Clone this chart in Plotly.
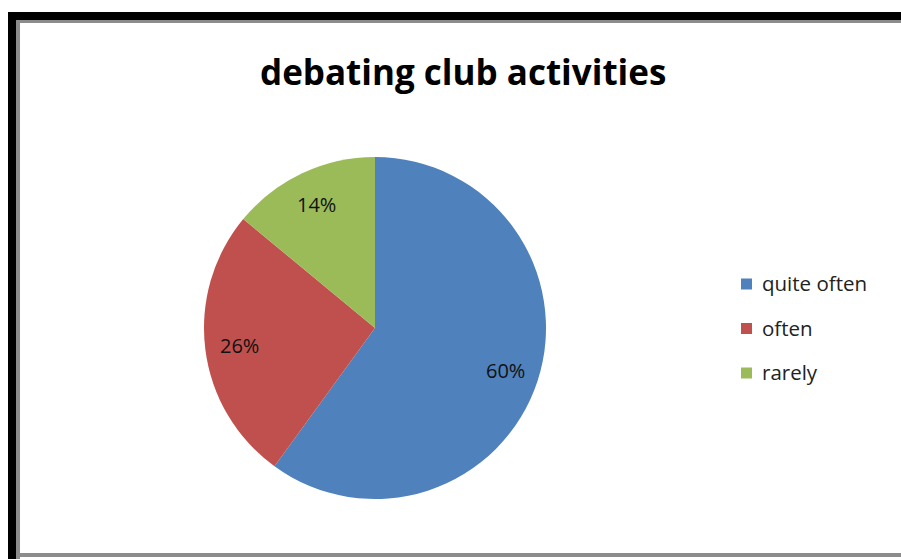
import math
import plotly.graph_objects as go

categories = ["quite often", "often", "rarely"]
values = [60, 26, 14]
colors = ["#4F81BD", "#C0504D", "#9BBB59"]
title_text = "debating club activities"

W, H = 901, 559
FONT = "Open Sans"

# pie geometry (pixels)
cx, cy, r = 375, 328, 171
dom_x = [(cx - r) / W, (cx + r) / W]
dom_y = [1 - (cy + r) / H, 1 - (cy - r) / H]

fig = go.Figure()
fig.add_trace(go.Pie(
    labels=categories, values=values, sort=False, direction="clockwise",
    rotation=0, marker=dict(colors=colors, line=dict(width=0)),
    textinfo="none", hoverinfo="label+percent", showlegend=False,
    domain=dict(x=dom_x, y=dom_y),
))

annotations = []
shapes = []
total = sum(values)
cum = 0
for v in values:
    mid = (cum + v / 2) / total
    cum += v
    th = 2 * math.pi * mid
    px = cx + 0.8 * r * math.sin(th)
    py = cy - 0.8 * r * math.cos(th)
    annotations.append(dict(
        x=px / W, y=1 - py / H, xref="paper", yref="paper",
        text=f"{round(100 * v / total)}%", showarrow=False,
        font=dict(family=FONT, size=20, color="#111111"),
        xanchor="center", yanchor="middle"))

# title
annotations.append(dict(
    x=463 / W, y=1 - 72 / H, xref="paper", yref="paper", text=f"<b>{title_text}</b>",
    showarrow=False, font=dict(family=FONT, size=35, color="#000000"),
    xanchor="center", yanchor="middle"))

# manual legend
leg_x, leg_y0, leg_dy = 741, 284, 44.5
for i, (c, col) in enumerate(zip(categories, colors)):
    yy = leg_y0 + i * leg_dy
    shapes.append(dict(type="rect", xref="paper", yref="paper",
                       x0=leg_x / W, x1=(leg_x + 11) / W,
                       y0=1 - (yy + 5.5) / H, y1=1 - (yy - 5.5) / H,
                       fillcolor=col, line=dict(width=0)))
    annotations.append(dict(
        x=(leg_x + 19) / W, y=1 - (yy - 1) / H, xref="paper", yref="paper", text=c,
        showarrow=False, font=dict(family=FONT, size=20.5, color="#222222"),
        xanchor="left", yanchor="middle"))

# frame: black outer band and gray inner lines
def rect(x0, y0, x1, y1, col):
    shapes.append(dict(type="rect", xref="paper", yref="paper",
                       x0=x0 / W, x1=x1 / W, y0=1 - y1 / H, y1=1 - y0 / H,
                       fillcolor=col, line=dict(width=0), layer="above"))

rect(8, 12, W + 2, 20, "#000000")
rect(8, 12, 16, H + 2, "#000000")
rect(16, 20, W + 2, 23, "#8c8c8c")
rect(16, 20, 20, H + 2, "#8c8c8c")
rect(20, 553, W + 2, 557, "#8c8c8c")

fig.update_layout(
    width=W, height=H, autosize=False,
    margin=dict(l=0, r=0, t=0, b=0),
    paper_bgcolor="white", plot_bgcolor="white",
    showlegend=False,
    annotations=annotations, shapes=shapes,
)

fig.write_html("out.html")
